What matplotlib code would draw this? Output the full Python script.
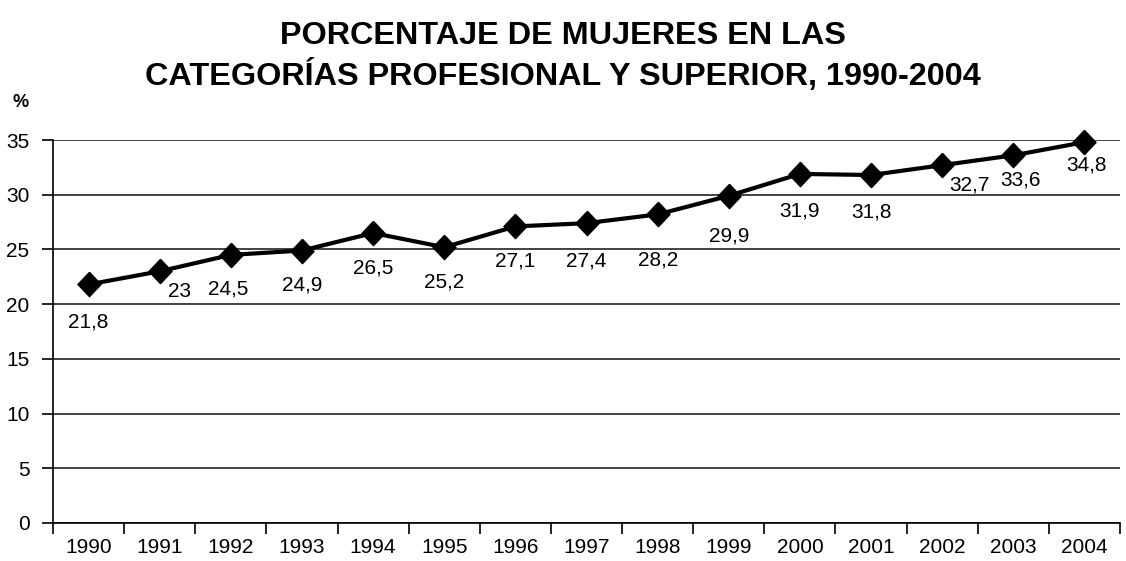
import matplotlib.pyplot as plt
from matplotlib.ticker import FixedLocator

plt.rcParams['font.family'] = ['Liberation Sans', 'DejaVu Sans']

# data
years = ['1990', '1991', '1992', '1993', '1994', '1995', '1996', '1997',
         '1998', '1999', '2000', '2001', '2002', '2003', '2004']
pct = [21.8, 23, 24.5, 24.9, 26.5, 25.2, 27.1, 27.4, 28.2, 29.9, 31.9, 31.8, 32.7, 33.6, 34.8]
labels = ['21,8', '23', '24,5', '24,9', '26,5', '25,2', '27,1', '27,4',
          '28,2', '29,9', '31,9', '31,8', '32,7', '33,6', '34,8']

# label offsets in pixels (dx, dy), mimicking the original placement
offsets = [(0, -38), (20, -20), (-3, -34), (0, -34), (0, -35), (0, -35), (0, -35), (0, -38),
           (0, -46), (0, -40), (0, -37), (0, -37), (27, -20), (7, -25), (2, -23)]

fig = plt.figure(figsize=(11.26, 5.61), dpi=100)
ax = fig.add_axes([53 / 1126, 1 - 523 / 561, (1120 - 53) / 1126, (523 - 140) / 561])

x = list(range(len(years)))
diamond = [(0, 1), (0.95, 0), (0, -1), (-0.95, 0), (0, 1)]
ax.plot(x, pct, color='black', lw=3, marker=diamond, ms=17.5, mfc='black', mec='black',
        zorder=3, clip_on=False)

for xi, yi, lab, (dx, dy) in zip(x, pct, labels, offsets):
    ax.annotate(lab, (xi, yi), xytext=(dx, dy), textcoords='offset pixels',
                ha='center', va='center', fontsize=15)

ax.set_xlim(-0.5, len(years) - 0.5)
ax.set_ylim(0, 35)
ax.set_yticks(range(0, 36, 5))
ax.yaxis.grid(True, color='#222222', lw=1.2)
ax.set_axisbelow(True)

ax.set_xticks(x)
ax.set_xticklabels(years, fontsize=15)
ax.xaxis.set_minor_locator(FixedLocator([i - 0.5 for i in range(len(years) + 1)]))
ax.tick_params(axis='x', which='major', length=0, pad=11)
ax.tick_params(axis='x', which='minor', length=8, width=1.2, direction='out')
ax.tick_params(axis='y', length=8, width=1.2, labelsize=15, pad=9)

for s in ['top', 'right']:
    ax.spines[s].set_visible(False)
for s in ['left', 'bottom']:
    ax.spines[s].set_linewidth(1.2)

fig.text(0.5, 1 - 36 / 561, 'PORCENTAJE DE MUJERES EN LAS', ha='center', va='center',
         fontsize=23.3, fontweight='bold')
fig.text(0.5, 1 - 76 / 561, 'CATEGORÍAS PROFESIONAL Y SUPERIOR, 1990-2004', ha='center',
         va='center', fontsize=23.3, fontweight='bold')
fig.text(21 / 1126, 1 - 102 / 561, '%', ha='center', va='center', fontsize=13, fontweight='bold')

fig.savefig('out.png', dpi=100, facecolor='white')
